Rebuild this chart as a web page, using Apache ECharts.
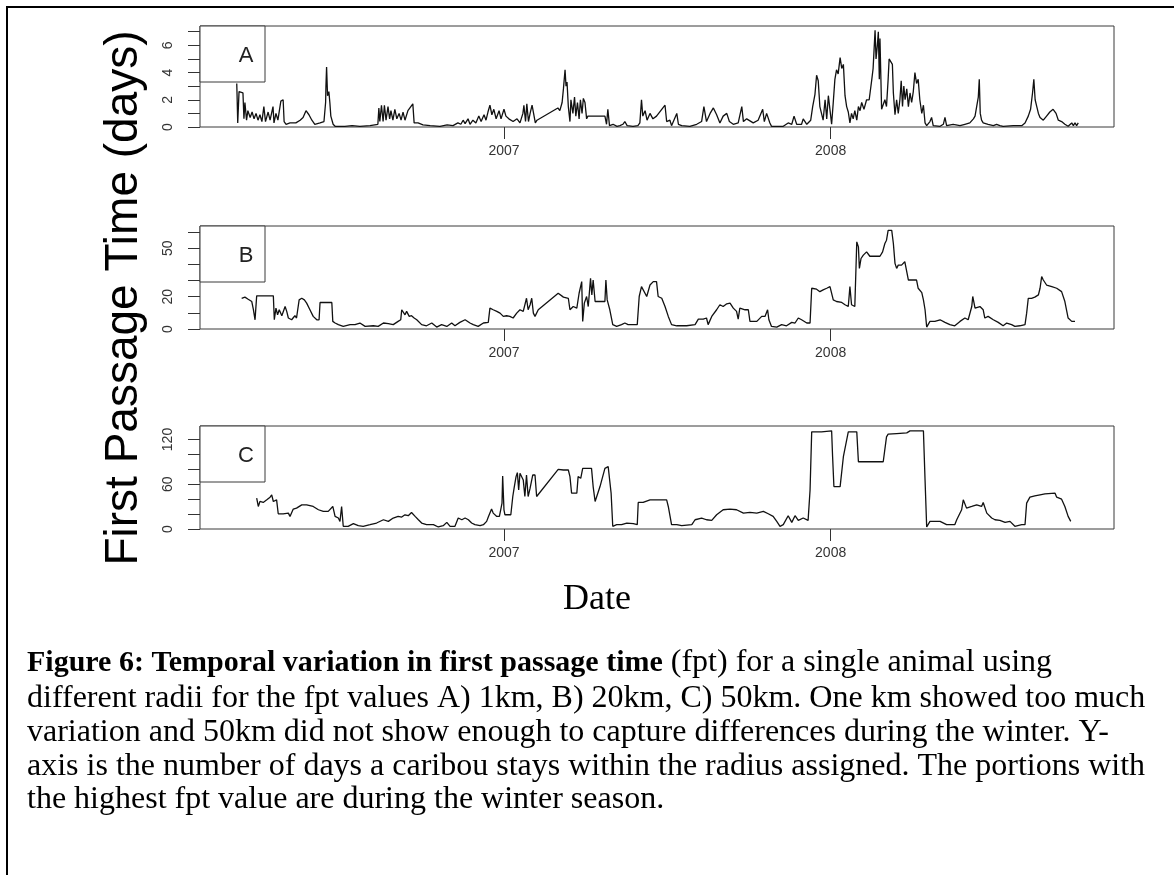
<!DOCTYPE html>
<html><head><meta charset="utf-8">
<script src="https://cdn.jsdelivr.net/npm/echarts@6/dist/echarts.min.js"></script>
<style>html,body{margin:0;padding:0;background:#fff}#c{width:1174px;height:875px}</style>
</head><body><div id="c"></div><script>
// Dates are decimal years
const datesA=[2006.182,2006.183,2006.185,2006.189,2006.195,2006.201,2006.204,2006.207,2006.212,2006.216,2006.223,2006.229,2006.235,2006.241,2006.247,2006.253,2006.259,2006.265,2006.270,2006.278,2006.284,2006.293,2006.296,2006.302,2006.308,2006.317,2006.324,2006.327,2006.333,2006.345,2006.363,2006.376,2006.385,2006.394,2006.403,2006.412,2006.421,2006.437,2006.449,2006.454,2006.455,2006.457,2006.460,2006.464,2006.467,2006.470,2006.477,2006.483,2006.513,2006.535,2006.559,2006.590,2006.614,2006.617,2006.620,2006.625,2006.630,2006.634,2006.639,2006.645,2006.650,2006.654,2006.660,2006.666,2006.672,2006.679,2006.685,2006.691,2006.697,2006.706,2006.721,2006.725,2006.737,2006.752,2006.774,2006.804,2006.826,2006.844,2006.859,2006.868,2006.875,2006.881,2006.890,2006.896,2006.905,2006.914,2006.923,2006.930,2006.939,2006.945,2006.951,2006.957,2006.963,2006.969,2006.976,2006.985,2006.991,2007.000,2007.006,2007.015,2007.028,2007.040,2007.049,2007.058,2007.061,2007.066,2007.070,2007.075,2007.080,2007.086,2007.092,2007.096,2007.101,2007.165,2007.171,2007.178,2007.182,2007.187,2007.190,2007.193,2007.197,2007.202,2007.205,2007.211,2007.216,2007.220,2007.225,2007.230,2007.234,2007.239,2007.243,2007.248,2007.253,2007.257,2007.309,2007.314,2007.318,2007.323,2007.334,2007.346,2007.355,2007.364,2007.370,2007.377,2007.395,2007.410,2007.416,2007.421,2007.425,2007.432,2007.438,2007.447,2007.456,2007.467,2007.493,2007.498,2007.508,2007.513,2007.529,2007.534,2007.544,2007.569,2007.590,2007.605,2007.612,2007.620,2007.631,2007.641,2007.651,2007.661,2007.671,2007.682,2007.690,2007.702,2007.717,2007.728,2007.733,2007.743,2007.763,2007.778,2007.792,2007.797,2007.804,2007.814,2007.819,2007.855,2007.870,2007.881,2007.888,2007.896,2007.911,2007.916,2007.927,2007.939,2007.945,2007.952,2007.957,2007.962,2007.967,2007.972,2007.977,2007.983,2007.988,2007.993,2007.998,2008.003,2008.008,2008.013,2008.018,2008.023,2008.029,2008.034,2008.039,2008.044,2008.049,2008.054,2008.059,2008.064,2008.069,2008.074,2008.080,2008.085,2008.090,2008.095,2008.102,2008.110,2008.118,2008.126,2008.130,2008.136,2008.139,2008.143,2008.146,2008.149,2008.151,2008.156,2008.161,2008.166,2008.171,2008.176,2008.179,2008.184,2008.189,2008.192,2008.197,2008.202,2008.207,2008.212,2008.216,2008.220,2008.224,2008.228,2008.233,2008.238,2008.243,2008.248,2008.253,2008.258,2008.263,2008.268,2008.273,2008.279,2008.284,2008.289,2008.294,2008.304,2008.309,2008.314,2008.335,2008.345,2008.350,2008.355,2008.375,2008.396,2008.411,2008.426,2008.437,2008.442,2008.447,2008.452,2008.455,2008.458,2008.462,2008.467,2008.482,2008.498,2008.508,2008.518,2008.528,2008.559,2008.585,2008.595,2008.605,2008.612,2008.618,2008.622,2008.626,2008.631,2008.636,2008.641,2008.651,2008.661,2008.671,2008.681,2008.690,2008.697,2008.707,2008.717,2008.727,2008.738,2008.743,2008.748,2008.753,2008.758];
const fptA=[3.2,2.3,0.3,2.6,2.5,2.5,0.6,1.8,0.5,1.2,0.7,1.1,0.6,1.0,0.5,0.9,0.4,1.5,0.4,1.1,0.5,1.5,0.3,1.0,0.5,1.9,2.0,0.4,0.2,0.3,0.3,0.5,0.7,1.2,0.9,0.5,0.2,0.3,0.4,1.8,3.0,4.4,2.3,2.6,1.8,0.8,0.2,0.05,0.05,0.1,0.05,0.1,0.2,1.4,0.4,1.6,0.4,1.6,0.5,1.5,0.6,1.2,0.5,1.3,0.6,1.0,0.5,1.1,0.5,1.2,1.7,0.3,0.3,0.15,0.1,0.05,0.15,0.1,0.3,0.2,0.5,0.25,0.6,0.2,0.5,0.3,0.8,0.4,0.9,0.5,1.1,1.6,0.9,1.3,0.6,1.2,0.6,1.3,0.8,0.6,0.4,0.6,0.3,1.0,1.6,0.4,1.7,0.4,1.0,1.6,1.7,0.3,0.5,1.4,1.2,1.8,2.8,4.2,3.0,3.3,1.5,0.4,2.0,1.0,2.2,0.8,1.8,0.6,2.0,1.0,2.1,1.8,0.6,0.8,0.8,0.2,1.3,0.1,0.2,0.05,0.1,0.2,0.4,0.1,0.05,0.1,0.3,2.0,0.8,1.2,0.5,1.0,0.6,0.8,1.6,0.4,0.5,0.1,1.0,0.2,0.1,0.05,0.2,0.4,1.5,0.4,1.0,1.4,0.9,0.3,0.8,1.0,0.4,0.2,0.3,1.5,0.4,0.6,0.3,0.5,1.3,0.4,1.0,0.3,0.05,0.05,0.3,0.2,0.8,0.2,0.2,0.6,0.2,0.5,1.5,2.4,3.8,3.4,1.5,1.0,0.5,2.0,0.6,2.3,2.2,0.2,1.8,3.5,4.2,3.9,5.1,4.3,4.6,2.3,1.5,1.1,0.3,1.0,0.6,1.2,0.5,1.5,1.2,1.8,1.3,2.0,2.0,3.5,4.3,7.1,5.0,6.0,7.0,3.5,6.5,1.3,1.2,2.0,1.5,3.5,5.0,4.8,4.6,2.5,0.9,2.0,1.0,2.0,3.4,1.5,3.0,2.0,2.8,1.5,2.5,1.8,2.6,4.0,3.2,3.5,2.0,1.0,1.6,0.3,0.1,0.4,0.7,0.1,0.05,0.2,0.7,0.1,0.2,0.1,0.2,0.3,0.6,0.8,1.5,2.2,3.5,1.0,0.5,0.3,0.2,0.1,0.2,0.1,0.05,0.1,0.1,0.3,0.8,1.3,2.5,3.5,2.0,1.5,1.0,0.7,0.5,0.8,1.1,1.3,1.0,0.5,0.4,0.2,0.05,0.3,0.1,0.3,0.1,0.3];

const datesB=[2006.197,2006.207,2006.217,2006.223,2006.228,2006.233,2006.238,2006.243,2006.294,2006.297,2006.302,2006.307,2006.312,2006.320,2006.330,2006.335,2006.340,2006.350,2006.360,2006.365,2006.373,2006.381,2006.389,2006.396,2006.406,2006.416,2006.427,2006.434,2006.437,2006.473,2006.476,2006.483,2006.493,2006.508,2006.529,2006.544,2006.559,2006.575,2006.600,2006.615,2006.631,2006.646,2006.661,2006.676,2006.684,2006.687,2006.692,2006.697,2006.702,2006.710,2006.717,2006.725,2006.733,2006.748,2006.763,2006.779,2006.794,2006.809,2006.825,2006.840,2006.850,2006.865,2006.881,2006.896,2006.906,2006.921,2006.937,2006.952,2006.957,2006.967,2006.978,2006.988,2006.998,2007.008,2007.018,2007.028,2007.039,2007.049,2007.059,2007.069,2007.074,2007.080,2007.085,2007.090,2007.095,2007.105,2007.166,2007.182,2007.197,2007.202,2007.212,2007.223,2007.230,2007.238,2007.241,2007.246,2007.253,2007.258,2007.265,2007.269,2007.273,2007.279,2007.294,2007.309,2007.312,2007.316,2007.324,2007.333,2007.345,2007.360,2007.370,2007.380,2007.396,2007.408,2007.414,2007.421,2007.426,2007.437,2007.447,2007.457,2007.467,2007.472,2007.483,2007.493,2007.503,2007.513,2007.529,2007.559,2007.585,2007.595,2007.610,2007.620,2007.625,2007.636,2007.651,2007.661,2007.671,2007.682,2007.692,2007.702,2007.712,2007.717,2007.722,2007.738,2007.748,2007.753,2007.774,2007.789,2007.799,2007.807,2007.811,2007.819,2007.835,2007.850,2007.865,2007.881,2007.891,2007.901,2007.911,2007.927,2007.937,2007.942,2007.957,2007.967,2007.977,2007.988,2007.998,2008.003,2008.008,2008.018,2008.034,2008.044,2008.054,2008.059,2008.064,2008.069,2008.074,2008.080,2008.085,2008.088,2008.093,2008.100,2008.110,2008.120,2008.130,2008.151,2008.159,2008.166,2008.171,2008.176,2008.182,2008.187,2008.192,2008.197,2008.202,2008.207,2008.217,2008.227,2008.233,2008.238,2008.253,2008.263,2008.268,2008.279,2008.284,2008.289,2008.294,2008.304,2008.319,2008.335,2008.350,2008.365,2008.380,2008.396,2008.411,2008.421,2008.432,2008.435,2008.442,2008.457,2008.467,2008.472,2008.482,2008.498,2008.513,2008.528,2008.539,2008.554,2008.564,2008.579,2008.595,2008.600,2008.605,2008.615,2008.625,2008.636,2008.641,2008.646,2008.651,2008.661,2008.677,2008.692,2008.707,2008.717,2008.727,2008.738,2008.748];
const fptB=[19.0,19.7,18.4,19.5,17.0,12.0,5.7,20.5,20.5,5.7,12.9,8.8,11.9,8.2,13.9,10.9,6.8,5.7,8.2,6.8,18.0,19.0,18.0,16.0,11.9,7.8,5.7,5.7,16.4,16.4,4.7,3.7,2.7,1.6,2.7,2.7,3.7,1.6,2.0,1.6,3.7,3.3,2.7,4.7,5.7,11.9,11.9,8.8,10.9,7.8,8.2,6.8,5.7,2.7,2.0,3.7,1.2,2.7,1.6,3.7,2.0,4.1,5.7,3.7,2.7,1.6,3.7,4.1,12.9,11.9,10.9,9.8,7.8,8.2,7.8,6.8,9.8,11.9,10.9,19.0,11.9,15.0,19.0,9.8,7.8,11.9,22.1,19.7,19.0,11.9,13.9,12.9,22.1,29.3,4.7,16.0,20.1,13.9,31.3,21.1,30.3,17.0,17.0,17.0,30.3,18.0,11.9,2.7,1.6,2.7,3.7,2.7,2.7,2.7,20.1,26.2,26.2,20.1,27.2,29.3,29.3,20.1,19.0,13.9,7.8,2.7,2.0,2.0,2.7,6.1,6.1,6.8,2.7,7.8,11.9,15.0,13.9,15.6,16.0,12.9,10.9,6.1,12.9,11.9,11.9,4.7,4.7,7.8,7.8,11.9,5.7,1.6,1.2,2.7,2.0,4.1,3.7,6.8,5.7,3.7,3.7,25.2,24.6,23.1,24.2,25.2,26.2,27.2,18.0,17.0,16.4,15.0,13.9,26.2,15.0,15.0,13.9,53.9,50.8,37.5,43.6,45.7,47.7,45.0,45.0,45.0,47.7,52.9,54.9,61.0,60.0,61.0,52.9,40.6,37.5,39.5,39.5,41.6,40.6,30.3,30.3,30.3,25.2,22.5,18.0,11.9,1.2,4.7,4.7,5.7,4.1,2.7,2.0,4.7,6.8,5.7,13.9,20.1,12.9,13.9,11.9,6.8,7.8,5.7,4.1,2.0,3.7,2.7,1.6,2.0,2.7,9.8,19.0,19.0,19.7,21.1,25.2,32.4,30.3,27.2,26.2,25.2,23.1,17.0,6.8,4.7,4.7];

const datesC=[2006.243,2006.248,2006.253,2006.263,2006.274,2006.284,2006.289,2006.294,2006.304,2006.309,2006.324,2006.340,2006.345,2006.355,2006.365,2006.381,2006.396,2006.416,2006.432,2006.447,2006.462,2006.476,2006.483,2006.493,2006.498,2006.503,2006.508,2006.523,2006.539,2006.554,2006.569,2006.590,2006.610,2006.631,2006.646,2006.661,2006.676,2006.687,2006.697,2006.707,2006.717,2006.728,2006.738,2006.748,2006.763,2006.784,2006.799,2006.814,2006.825,2006.835,2006.850,2006.860,2006.871,2006.881,2006.891,2006.901,2006.911,2006.927,2006.937,2006.947,2006.952,2006.957,2006.962,2006.967,2006.978,2006.986,2006.990,2006.994,2006.996,2007.000,2007.003,2007.021,2007.027,2007.031,2007.037,2007.041,2007.045,2007.049,2007.054,2007.059,2007.064,2007.069,2007.074,2007.080,2007.088,2007.095,2007.100,2007.166,2007.182,2007.197,2007.202,2007.207,2007.223,2007.227,2007.235,2007.241,2007.258,2007.268,2007.273,2007.279,2007.294,2007.309,2007.319,2007.324,2007.328,2007.333,2007.345,2007.360,2007.376,2007.396,2007.408,2007.411,2007.426,2007.447,2007.457,2007.498,2007.503,2007.513,2007.529,2007.544,2007.575,2007.585,2007.605,2007.620,2007.636,2007.651,2007.671,2007.692,2007.712,2007.733,2007.753,2007.774,2007.794,2007.809,2007.824,2007.835,2007.845,2007.855,2007.870,2007.881,2007.891,2007.901,2007.916,2007.931,2007.937,2007.942,2007.972,2008.003,2008.006,2008.010,2008.029,2008.039,2008.054,2008.080,2008.085,2008.130,2008.161,2008.166,2008.171,2008.176,2008.202,2008.233,2008.243,2008.284,2008.289,2008.294,2008.304,2008.335,2008.355,2008.380,2008.386,2008.401,2008.406,2008.416,2008.432,2008.447,2008.462,2008.467,2008.478,2008.493,2008.503,2008.518,2008.534,2008.549,2008.564,2008.585,2008.595,2008.600,2008.610,2008.625,2008.641,2008.656,2008.687,2008.692,2008.707,2008.717,2008.727,2008.735];
const fptC=[41.3,30.2,36.9,35.6,39.1,42.7,45.8,36.9,39.1,20.4,20.4,21.3,16.9,26.7,28.0,32.4,32.4,30.2,25.8,23.6,23.6,30.2,16.9,14.7,10.2,30.2,3.6,3.6,7.1,4.4,3.6,5.8,8.0,12.4,10.2,14.7,16.9,16.0,19.1,17.8,22.2,16.9,12.4,8.0,5.8,5.8,2.7,4.4,8.9,3.6,3.6,14.7,12.4,14.7,12.4,8.0,5.8,4.4,5.8,10.2,16.0,16.9,26.7,21.3,16.9,16.9,25.8,34.7,71.1,25.8,19.1,19.1,43.6,54.7,70.2,75.6,52.4,74.7,74.7,65.8,43.6,72.4,43.6,54.7,72.4,72.4,43.6,80.0,79.1,79.1,70.2,48.0,48.0,70.2,68.0,81.3,81.3,81.3,56.9,36.9,56.9,81.3,83.6,81.3,48.0,3.6,5.8,5.8,8.0,7.1,5.8,35.6,35.6,39.1,39.1,39.1,30.2,5.8,5.8,4.4,5.8,12.4,14.7,12.4,11.6,19.1,25.8,26.7,25.8,21.3,22.2,21.3,23.6,20.4,16.9,10.2,3.6,5.8,17.8,8.9,17.8,11.6,14.7,11.6,52.4,130.2,130.2,131.6,96.9,56.9,56.9,96.9,130.2,130.2,90.2,90.2,90.2,92.4,123.6,127.1,128.0,128.9,131.6,131.6,65.8,2.7,10.2,10.2,5.8,5.8,12.4,25.8,39.1,28.0,30.2,32.4,30.2,35.6,21.3,14.7,12.4,11.6,8.9,10.2,3.6,5.8,5.8,34.7,42.7,44.4,45.8,47.1,48.0,42.7,40.0,30.2,16.9,10.2];

const yearTicks=[2007,2008];
const yTicksA=[0,1,2,3,4,5,6,7], yLabelsA=[0,2,4,6];
const yTicksB=[0,10,20,30,40,50,60], yLabelsB=[0,20,50];
const yTicksC=[0,20,40,60,80,100,120], yLabelsC=[0,60,120];
const panelLetters=['A','B','C'];
const yTitle='First Passage Time (days)';
const xTitle='Date';
const captionBold='Figure 6: Temporal variation in first passage time';
const captionRest=[' (fpt) for a single animal using',
 'different radii for the fpt values A) 1km, B) 20km, C) 50km. One km showed too much',
 'variation and 50km did not show enough to capture differences during the winter. Y-',
 'axis is the number of days a caribou stays within the radius assigned. The portions with',
 'the highest fpt value are during the winter season.'];

const panels=[
 {dates:datesA, vals:fptA, ymax:7.42, ticks:yTicksA, labels:yLabelsA, top:26, h:101},
 {dates:datesB, vals:fptB, ymax:63.7, ticks:yTicksB, labels:yLabelsB, top:226, h:103},
 {dates:datesC, vals:fptC, ymax:138.1, ticks:yTicksC, labels:yLabelsC, top:426, h:103}
];
const SANS='"Liberation Sans", Arial, sans-serif';
const SERIF='"Liberation Serif", "Times New Roman", serif';
const grids=[],xAxes=[],yAxes=[],series=[],graphics=[];
panels.forEach((p,i)=>{
  grids.push({left:200,top:p.top,width:914,height:p.h,show:true,borderColor:'#3a3a3a',borderWidth:1,backgroundColor:'transparent'});
  xAxes.push({gridIndex:i,type:'value',min:2006.0695,max:2008.8674,
    axisLine:{show:false},splitLine:{show:false},
    axisTick:{show:true,length:12,customValues:yearTicks,lineStyle:{color:'#333',width:1}},
    axisLabel:{customValues:yearTicks,formatter:v=>String(Math.round(v)),fontSize:14,color:'#333',margin:17,fontFamily:SANS}});
  yAxes.push({gridIndex:i,type:'value',min:0,max:p.ymax,
    axisLine:{show:false},splitLine:{show:false},
    axisTick:{show:true,length:12,customValues:p.ticks,lineStyle:{color:'#333',width:1}},
    axisLabel:{customValues:p.labels,rotate:90,fontSize:14,color:'#333',margin:25,fontFamily:SANS}});
  series.push({type:'line',xAxisIndex:i,yAxisIndex:i,data:p.dates.map((d,k)=>[d,p.vals[k]]),
    showSymbol:false,symbol:'none',lineStyle:{color:'#111',width:1.3},animation:false});
  graphics.push({type:'rect',z:100,shape:{x:200,y:p.top,width:65,height:56},style:{fill:'#fff',stroke:'#3a3a3a',lineWidth:1}});
  graphics.push({type:'text',z:101,x:246,y:p.top+30,style:{text:panelLetters[i],font:'22px '+SANS,fill:'#222',align:'center',verticalAlign:'middle',textAlign:'center',textVerticalAlign:'middle'}});
});
graphics.push({type:'polyline',z:100,shape:{points:[[7,875],[7,7],[1174,7]]},style:{stroke:'#000',lineWidth:2,fill:null}});
graphics.push({type:'text',z:101,x:124,y:298,rotation:Math.PI/2,style:{text:yTitle,font:'46px '+SANS,fill:'#000',align:'center',verticalAlign:'middle',textAlign:'center',textVerticalAlign:'middle'}});
graphics.push({type:'text',z:101,x:597,y:600,style:{text:xTitle,font:'36px '+SERIF,fill:'#000',align:'center',verticalAlign:'middle',textAlign:'center',textVerticalAlign:'middle'}});
const capY=[663,699,733,767,800];
graphics.push({type:'text',z:101,x:27,y:capY[0],style:{text:'{b|'+captionBold+'}{n|'+captionRest[0]+'}',rich:{b:{font:'bold 30px '+SERIF,fill:'#000'},n:{font:'32px '+SERIF,fill:'#000'}},align:'left',verticalAlign:'middle',textAlign:'left',textVerticalAlign:'middle'}});
for(let k=1;k<captionRest.length;k++){
  graphics.push({type:'text',z:101,x:27,y:capY[k],style:{text:captionRest[k],font:'32px '+SERIF,fill:'#000',align:'left',verticalAlign:'middle',textAlign:'left',textVerticalAlign:'middle'}});
}
const chart=echarts.init(document.getElementById('c'),null,{renderer:'canvas',width:1174,height:875});
chart.setOption({animation:false,backgroundColor:'#fff',grid:grids,xAxis:xAxes,yAxis:yAxes,series:series,graphic:{elements:graphics}});
</script></body></html>
